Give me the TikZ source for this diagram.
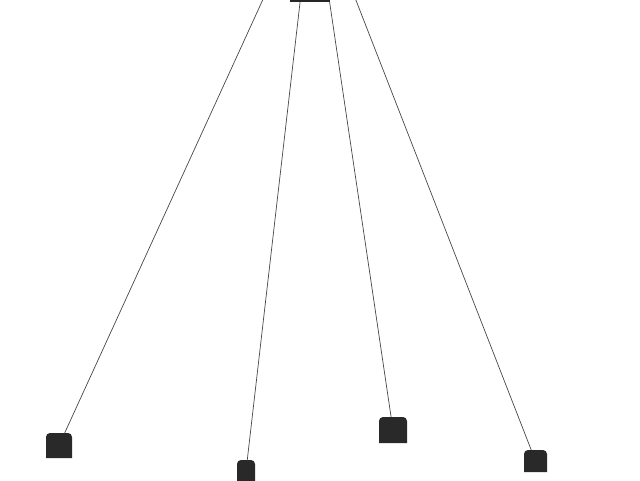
\documentclass[tikz,border=0pt]{standalone}
\begin{document}
\begin{tikzpicture}[x=1pt,y=-1pt,
  wire/.style={draw=black!72,line width=0.7pt},
  weight/.style={rectangle,inner sep=0pt,outer sep=0pt,
    path picture={\fill[black!84]
      (path picture bounding box.south west) [rounded corners=4pt]
      -- (path picture bounding box.north west)
      -- (path picture bounding box.north east) [sharp corners]
      -- (path picture bounding box.south east) -- cycle;}},
  topbar/.style={rectangle,fill=black!85,inner sep=0pt,minimum width=40pt,minimum height=8pt}]
\useasboundingbox (0,0) rectangle (640,480);
\clip (0,0) rectangle (640,480);
\fill[white] (0,0) rectangle (640,480);
\coordinate (hub) at (313,-110);
\node[weight,minimum width=26pt,minimum height=25pt] (w1) at (59,445.5) {};
\node[weight,minimum width=18pt,minimum height=22pt] (w2) at (246,471) {};
\node[weight,minimum width=28pt,minimum height=26pt] (w3) at (393,430) {};
\node[weight,minimum width=23pt,minimum height=22pt] (w4) at (535.5,461) {};
\draw[wire] (hub) -- (w1);
\draw[wire] (hub) -- (w2);
\draw[wire] (hub) -- (w3);
\draw[wire] (hub) -- (w4);
\node[topbar] (bar) at (310,-2) {};
\end{tikzpicture}
\end{document}
